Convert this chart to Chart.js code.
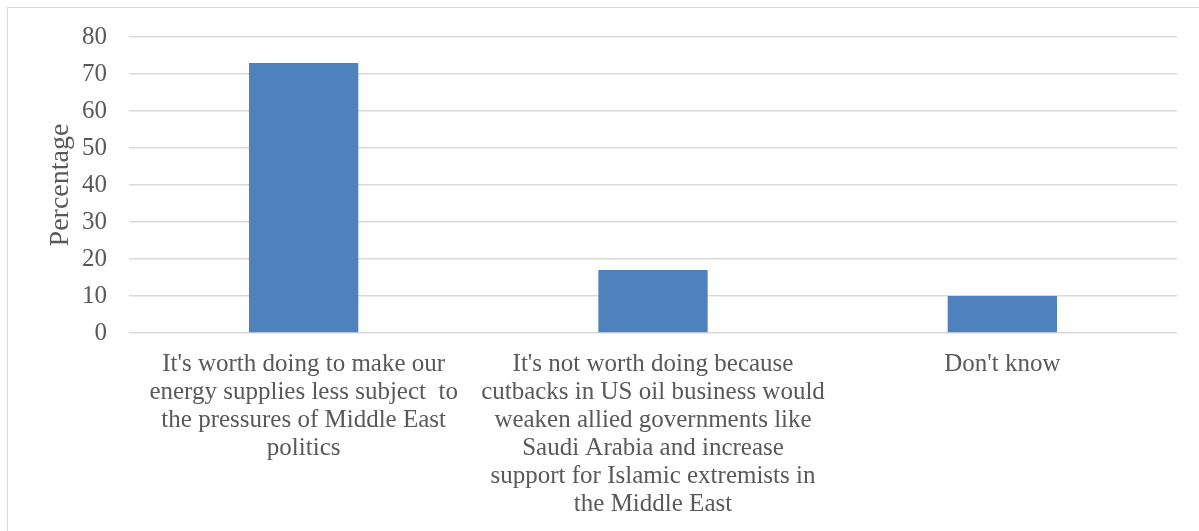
<!DOCTYPE html>
<html>
<head>
<meta charset="utf-8">
<script src="https://cdn.jsdelivr.net/npm/chart.js@4.4.1/dist/chart.umd.min.js"></script>
<style>
  html, body { margin: 0; padding: 0; background: #fff; overflow: hidden; }
  #wrap { position: absolute; left: 0; top: 0; width: 1199px; height: 531px; }
  #frame { position: absolute; left: 7px; top: 7px; width: 1200px; height: 540px; border: 1px solid #d9d9d9; pointer-events: none; }
</style>
</head>
<body>
<div id="wrap"><canvas id="c" width="1199" height="531"></canvas></div>
<div id="frame"></div>
<script>
const categories = [
  ["It's worth doing to make our", "energy supplies less subject  to", "the pressures of Middle East", "politics"],
  ["It's not worth doing because", "cutbacks in US oil business would", "weaken allied governments like", "Saudi Arabia and increase", "support for Islamic extremists in", "the Middle East"],
  ["Don't know"]
];
const percentages = [73, 17, 10];
const yTicks = { min: 0, max: 80, step: 10 };
const yTitle = "Percentage";

const FONT = "'Liberation Serif', 'DejaVu Serif', serif";
const TEXT = "#595959";

new Chart(document.getElementById('c'), {
  type: 'bar',
  data: {
    labels: categories,
    datasets: [{
      data: percentages,
      backgroundColor: '#4f81bd',
      borderWidth: 0,
      categoryPercentage: 1.0,
      barPercentage: 0.313
    }]
  },
  options: {
    responsive: false,
    animation: false,
    devicePixelRatio: 1,
    layout: { padding: { top: 25, right: 22, left: 0, bottom: 0 } },
    plugins: { legend: { display: false }, tooltip: { enabled: false } },
    scales: {
      x: {
        grid: { display: false, drawTicks: false },
        border: { display: false },
        ticks: {
          color: TEXT,
          font: { family: FONT, size: 25, lineHeight: 1.12 },
          maxRotation: 0, minRotation: 0, autoSkip: false, padding: 17
        },
        afterFit: (s) => { s.height = 198; }
      },
      y: {
        min: yTicks.min, max: yTicks.max,
        grid: { color: '#d9d9d9', lineWidth: 1.5, drawTicks: false },
        border: { display: false },
        ticks: {
          stepSize: yTicks.step,
          color: TEXT,
          font: { family: FONT, size: 25 },
          padding: 22
        },
        title: {
          display: true, text: yTitle, color: TEXT,
          font: { family: FONT, size: 28 },
          padding: { top: 44, bottom: 0 }
        },
        afterFit: (s) => { s.width = 129; }
      }
    }
  }
});
</script>
</body>
</html>
